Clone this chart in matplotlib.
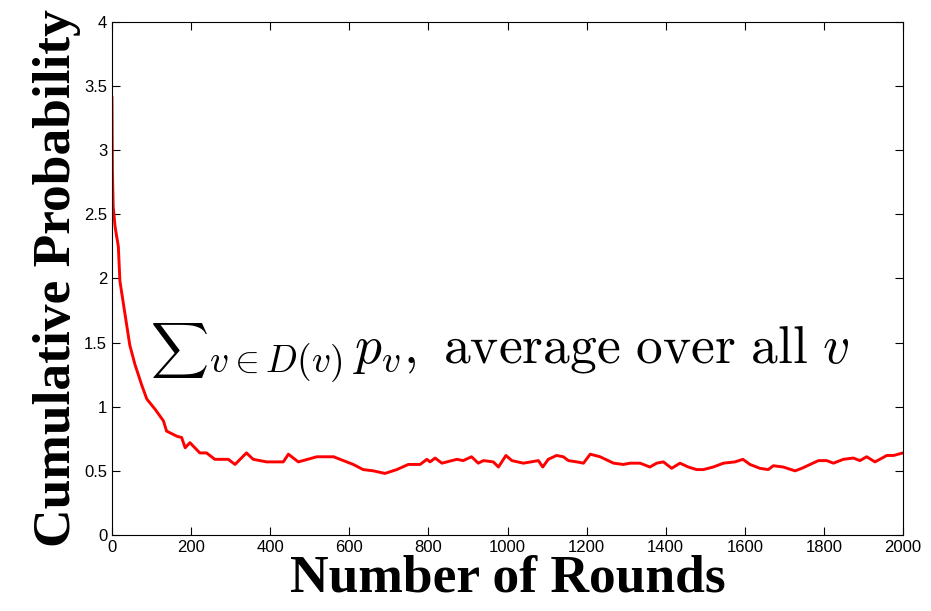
import matplotlib
matplotlib.use('Agg')
import matplotlib.pyplot as plt

# values
rounds = [0, 1, 3, 8, 16, 20, 33, 45, 58, 75, 88, 109, 130, 138, 164, 176, 185, 197,
          222, 239, 260, 294, 311, 340, 357, 391, 433, 446, 471, 518, 560, 585, 610,
          635, 661, 690, 720, 749, 779, 796, 804, 817, 834, 872, 888, 909, 926, 939,
          964, 977, 996, 1011, 1040, 1078, 1089, 1103, 1124, 1141, 1154, 1175, 1192,
          1209, 1234, 1268, 1293, 1310, 1335, 1360, 1377, 1394, 1415, 1436, 1457,
          1478, 1495, 1520, 1546, 1575, 1595, 1613, 1638, 1659, 1672, 1697, 1727,
          1744, 1765, 1786, 1807, 1824, 1849, 1874, 1891, 1908, 1929, 1959, 1976, 2000]
cum_prob = [3.41, 2.85, 2.56, 2.40, 2.25, 1.98, 1.72, 1.48, 1.33, 1.17, 1.06, 0.98,
            0.89, 0.81, 0.77, 0.76, 0.68, 0.72, 0.64, 0.64, 0.59, 0.59, 0.55, 0.64,
            0.59, 0.57, 0.57, 0.63, 0.57, 0.61, 0.61, 0.58, 0.55, 0.51, 0.50, 0.48,
            0.51, 0.55, 0.55, 0.59, 0.57, 0.60, 0.56, 0.59, 0.58, 0.61, 0.56, 0.58,
            0.57, 0.53, 0.62, 0.58, 0.56, 0.58, 0.53, 0.59, 0.62, 0.61, 0.58, 0.57,
            0.56, 0.63, 0.61, 0.56, 0.55, 0.56, 0.56, 0.53, 0.56, 0.57, 0.52, 0.56,
            0.53, 0.51, 0.51, 0.53, 0.56, 0.57, 0.59, 0.55, 0.52, 0.51, 0.54, 0.53,
            0.50, 0.52, 0.55, 0.58, 0.58, 0.56, 0.59, 0.60, 0.58, 0.61, 0.57, 0.62,
            0.62, 0.64]

x_ticks = [0, 200, 400, 600, 800, 1000, 1200, 1400, 1600, 1800, 2000]
y_ticks = [0, 0.5, 1, 1.5, 2, 2.5, 3, 3.5, 4]
y_tick_labels = ['0', '0.5', '1', '1.5', '2', '2.5', '3', '3.5', '4']

plt.rcParams['mathtext.fontset'] = 'cm'

fig = plt.figure(figsize=(9.31, 6.11), dpi=100)
ax = fig.add_axes([0.1203, 0.1244, 0.8497, 0.8396])

ax.plot(rounds, cum_prob, color='red', linewidth=2.1)

ax.set_xlim(0, 2000)
ax.set_ylim(0, 4)
ax.set_xticks(x_ticks)
ax.set_yticks(y_ticks)
ax.set_yticklabels(y_tick_labels)
ax.tick_params(direction='in', top=True, right=True, length=6, labelsize=12)
for lab in ax.get_xticklabels() + ax.get_yticklabels():
    lab.set_family('Liberation Sans')

ax.set_xlabel('Number of Rounds', family='Liberation Serif', fontweight='bold',
              fontsize=38.5, labelpad=0)
ax.set_ylabel('Cumulative Probability', family='Liberation Serif', fontweight='bold',
              fontsize=38.5, labelpad=2)

# mathtext has no text-style sum, so draw the sign a bit smaller on its own
ax.text(96, 1.33, r'$\sum$', fontsize=29, color='black')
ax.text(240, 1.33, r'${}_{v\in D(v)}\, p_v,\ \mathrm{average\ over\ all}\ v$',
        fontsize=38.5, color='black')

fig.savefig('out.png', dpi=100)
